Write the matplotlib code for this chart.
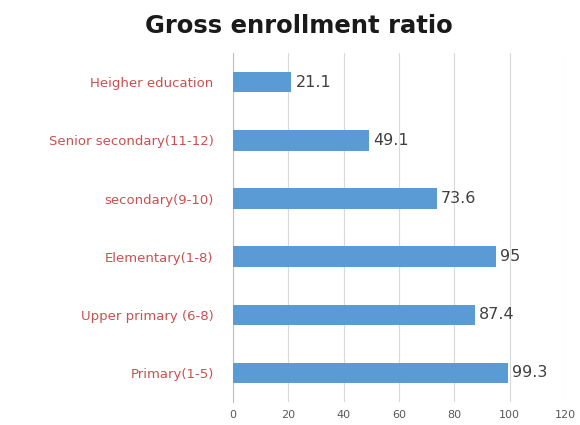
import numpy as np
import matplotlib
matplotlib.use("Agg")
import matplotlib.pyplot as plt

plt.rcParams['font.family'] = ['DejaVu Sans']

categories = ['Primary(1-5)', 'Upper primary (6-8)', 'Elementary(1-8)',
              'secondary(9-10)', 'Senior secondary(11-12)', 'Heigher education']
values = [99.3, 87.4, 95, 73.6, 49.1, 21.1]
value_labels = ['99.3', '87.4', '95', '73.6', '49.1', '21.1']
xticks = [0, 20, 40, 60, 80, 100, 120]

fig = plt.figure(figsize=(5.8, 4.25), dpi=100)
ax = fig.add_axes([0.402, 0.054, 0.572, 0.821])

y = np.arange(len(categories))
ax.barh(y, values, height=0.35, color='#5b9bd5', zorder=3)
for yi, v, lab in zip(y, values, value_labels):
    ax.text(v + 1.5, yi, lab, va='center', ha='left', fontsize=11.5, color='#404040')

ax.set_xlim(0, 120)
ax.set_ylim(-0.5, len(categories) - 0.5)
ax.set_xticks(xticks)
ax.set_yticks(y)
ax.set_yticklabels(categories, fontsize=9.5, color='#cc4f4f')
ax.tick_params(axis='x', labelsize=8, colors='#595959', length=0, pad=6)
ax.tick_params(axis='y', length=0, pad=14)
ax.grid(axis='x', color='#d9d9d9', linewidth=0.8, zorder=0)
for s in ['top', 'right', 'bottom']:
    ax.spines[s].set_visible(False)
ax.spines['left'].set_color('#bfbfbf')

fig.suptitle('Gross enrollment ratio', x=0.515, y=0.968, fontsize=17.5,
             fontweight='bold', color='#1a1a1a')

fig.savefig('out.png', dpi=100)
